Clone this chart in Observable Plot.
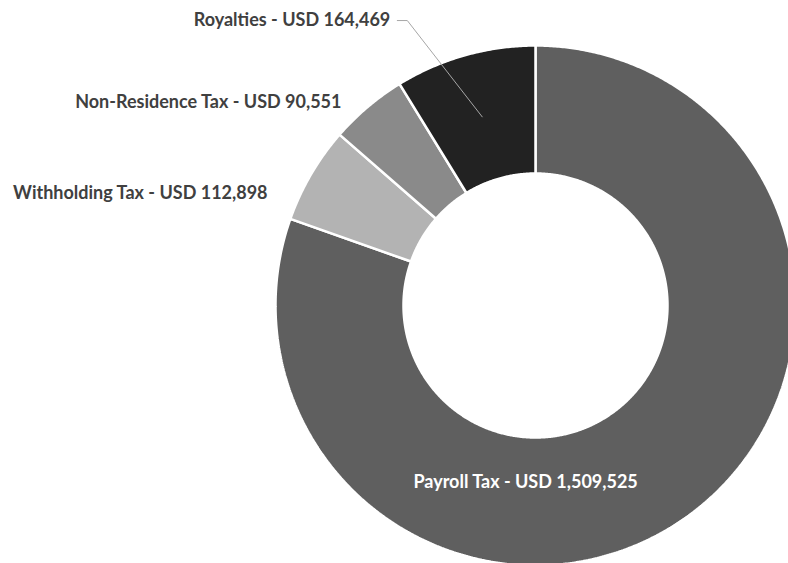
<!DOCTYPE html>
<html><head><meta charset="utf-8">
<script src="https://cdn.jsdelivr.net/npm/d3@7"></script>
<script src="https://cdn.jsdelivr.net/npm/@observablehq/plot@0.6"></script>
<style>html,body{margin:0;padding:0;background:#fff;overflow:hidden}</style>
</head><body><div id="chart"></div>
<script>
// ---- data ----
const categories = ["Payroll Tax", "Withholding Tax", "Non-Residence Tax", "Royalties"];
const values = [1509525, 112898, 90551, 164469];
const valueLabels = ["1,509,525", "112,898", "90,551", "164,469"];

// ---- styles / layout (not data) ----
const colors = ["#5f5f5f", "#b3b3b3", "#8a8a8a", "#222222"];
const W = 788, H = 563;
const CX = 535, CY = 305, R = 260;       // donut centre and outer radius (px)
const innerRatio = 132 / 260;
// label anchors, as polar (angle deg clockwise from top, radius relative to outer radius)
const labelLayout = [
  {angle: 183.2, r: 0.682, anchor: "middle", fill: "#ffffff"},
  {angle: 292.7, r: 1.117, anchor: "end", fill: "#404040"},
  {angle: 316.4, r: 1.082, anchor: "end", fill: "#404040"},
  {angle: 333.0, r: 1.230, anchor: "end", fill: "#404040"}
];
const fontFamily = "Lato, 'Open Sans', sans-serif";
const fontSize = 18;

const pie = d3.pie().sort(null).value(d => d)(values);
const rad = Math.PI / 180;
const toXY = (a, r) => ({x: r * Math.sin(a), y: r * Math.cos(a)});

const ringPts = [];
pie.forEach((p, i) => {
  const n = Math.max(4, Math.ceil((p.endAngle - p.startAngle) / (0.4 * rad)));
  const pts = [];
  for (let k = 0; k <= n; k++) pts.push(toXY(p.startAngle + (p.endAngle - p.startAngle) * k / n, 1));
  for (let k = n; k >= 0; k--) pts.push(toXY(p.startAngle + (p.endAngle - p.startAngle) * k / n, innerRatio));
  pts.push(pts[0]);
  pts.forEach(q => ringPts.push({...q, name: categories[i], color: colors[i]}));
});

const labels = categories.map((c, i) => {
  const L = labelLayout[i];
  return {...toXY(L.angle * rad, L.r), text: `${c} - USD ${valueLabels[i]}`, anchor: L.anchor, fill: L.fill};
});

// leader line for Royalties: from label end to the ring middle at slice mid-angle
const roy = pie[3];
const mid = (roy.startAngle + roy.endAngle) / 2;
const lab = labels[3];
const leader = [
  {x: lab.x + 7 / R, y: lab.y},
  {x: lab.x + 17 / R, y: lab.y},
  toXY(mid, (1 + innerRatio) / 2)
];

const chart = Plot.plot({
  width: W, height: H,
  margin: 0,
  x: {domain: [-CX / R, (W - CX) / R], axis: null},
  y: {domain: [-(H - CY) / R, CY / R], axis: null},
  color: {type: "identity"},
  style: {background: "white", overflow: "hidden"},
  marks: [
    Plot.line(ringPts, {x: "x", y: "y", z: "name", fill: "color", stroke: "white", strokeWidth: 2.5, strokeLinejoin: "miter"}),
    Plot.line(leader, {x: "x", y: "y", stroke: "#a6a6a6", strokeWidth: 1}),
    Plot.text(labels.filter(d => d.anchor === "end"), {x: "x", y: "y", text: "text", textAnchor: "end", fill: "fill",
      fontSize, fontWeight: "bold", fontFamily}),
    Plot.text(labels.filter(d => d.anchor === "middle"), {x: "x", y: "y", text: "text", textAnchor: "middle", fill: "fill",
      fontSize, fontWeight: "bold", fontFamily})
  ]
});
document.getElementById("chart").appendChild(chart);
</script>
</body></html>
